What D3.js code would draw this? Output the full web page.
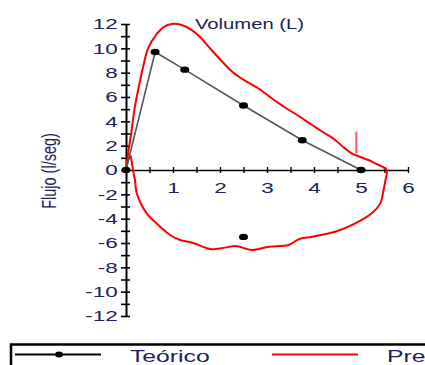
<!DOCTYPE html>
<html><head><meta charset="utf-8">
<script src="https://cdn.jsdelivr.net/npm/d3@7"></script>
<style>body{margin:0;background:#fff}svg{display:block}text{font-family:"Liberation Sans",Arial,sans-serif;fill:#1a2358}</style>
</head><body>
<script>
// Teórico (theoretical) curve: volume (L), flow (l/seg)
const teoVol  = [0, 0.62, 1.25, 2.5, 3.75, 5.0];
const teoFlow = [0, 9.7, 8.25, 5.3, 2.45, 0];
// isolated theoretical inspiratory point
const teoInspVol = [2.5];
const teoInspFlow = [-5.5];
// Pre (measured) loop: expiratory then inspiratory branch
const preVol  = [0,0.05,0.11,0.18,0.26,0.36,0.47,0.66,0.8,0.97,1.2,1.4,1.57,1.82,2.05,2.26,2.55,2.82,3.1,3.36,3.65,3.96,4.2,4.45,4.65,4.8,5.0,5.16,5.3,5.45,5.55,
                 5.52,5.48,5.41,5.23,4.88,4.45,3.96,3.67,3.46,3.04,2.68,2.33,2.11,1.83,1.72,1.43,1.15,0.94,0.65,0.44,0.23,0.19,0.15,0.1];
const preFlow = [0,1.5,3,5,6.6,8.4,10,11.2,11.75,12.0,11.9,11.5,10.95,9.86,8.9,8.08,7.3,6.7,5.9,5.2,4.5,3.7,3.1,2.47,1.8,1.37,1.05,0.82,0.55,0.27,0,
                 -0.82,-1.64,-2.74,-3.56,-4.38,-5.07,-5.48,-5.7,-6.16,-6.3,-6.57,-6.25,-6.38,-6.52,-6.43,-6.0,-5.75,-5.34,-4.38,-3.56,-1.92,-0.82,0,1.2];
// red marker segment
const markVol = [4.9, 4.9];
const markFlow = [3.15, 1.37];
const yTickLabels = [-12,-10,-8,-6,-4,-2,0,2,4,6,8,10,12];
const yMinorTicks = d3.range(-12, 13, 1);
const xTickLabels = [1,2,3,4,5,6];
const xTicks = d3.range(0.5, 6.01, 0.5);
const title = "Volumen (L)";
const yTitle = "Flujo (l/seg)";
const legendNames = ["Teórico", "Pre"];

const W = 425, H = 365;
const svg = d3.select("body").append("svg").attr("width", W).attr("height", H);
const x = d3.scaleLinear().domain([0, 6]).range([126, 408]);
const y = d3.scaleLinear().domain([-12, 12]).range([316, 24]);

// Y axis (left ticks with labels)
const yAxL = d3.axisLeft(y).tickValues(yMinorTicks).tickSizeInner(5).tickSizeOuter(0)
  .tickFormat(d => yTickLabels.includes(d) ? d : "");
const gy = svg.append("g").attr("transform", `translate(${x(0)},0)`).call(yAxL);
gy.select(".domain").attr("stroke", "#000").attr("stroke-width", 2);
gy.selectAll(".tick line").attr("stroke", "#000").attr("stroke-width", 1.6);
gy.selectAll(".tick text").attr("x", -5.5).attr("transform", "scale(1.5,1)")
  .style("font-size", "15px").attr("fill", "#1a2358");
const gy2 = svg.append("g").attr("transform", `translate(${x(0)},0)`)
  .call(d3.axisRight(y).tickValues(yMinorTicks).tickSize(4).tickFormat(""));
gy2.select(".domain").remove();
gy2.selectAll(".tick line").attr("stroke", "#000").attr("stroke-width", 1.6);

// X axis
const gx = svg.append("g").attr("transform", `translate(0,${y(0)})`)
  .call(d3.axisBottom(x).tickValues(xTicks).tickSizeInner(3).tickSizeOuter(0)
    .tickFormat(d => xTickLabels.includes(d) ? d : ""));
gx.select(".domain").attr("stroke", "#000").attr("stroke-width", 1.5);
gx.selectAll(".tick line").attr("stroke", "#000").attr("stroke-width", 1.4);
gx.selectAll(".tick text").attr("y", 23).attr("dy", 0).attr("transform", "scale(1.5,1)")
  .style("font-size", "15px").attr("fill", "#1a2358");
const gx2 = svg.append("g").attr("transform", `translate(0,${y(0)})`)
  .call(d3.axisTop(x).tickValues(xTicks).tickSize(3).tickFormat(""));
gx2.select(".domain").remove();
gx2.selectAll(".tick line").attr("stroke", "#000").attr("stroke-width", 1.4);

// Title and y-title
svg.append("text").attr("transform", "translate(195,29) scale(1.35,1)")
  .style("font-size", "15px").text(title);
svg.append("text").attr("transform", "translate(56,171) scale(1.35,1) rotate(-90)")
  .attr("text-anchor", "middle").style("font-size", "14.5px").text(yTitle);

const line = d3.line().x(d => x(d[0])).y(d => y(d[1]));
// Pre loop
svg.append("path").datum(preVol.map((v, i) => [v, preFlow[i]]))
  .attr("d", line.curve(d3.curveCatmullRom.alpha(0.5)))
  .attr("fill", "none").attr("stroke", "#ff0000").attr("stroke-width", 2);
svg.append("path").datum(markVol.map((v, i) => [v, markFlow[i]]))
  .attr("d", d3.line().x(d => x(d[0])).y(d => y(d[1])))
  .attr("stroke", "#ff5a5a").attr("stroke-width", 2);

// Teórico
const teo = teoVol.map((v, i) => [v, teoFlow[i]]);
svg.append("path").datum(teo).attr("d", d3.line().x(d => x(d[0])).y(d => y(d[1])))
  .attr("fill", "none").attr("stroke", "#555").attr("stroke-width", 1.6);
svg.selectAll("ellipse.teo").data(teo.concat(teoInspVol.map((v, i) => [v, teoInspFlow[i]])))
  .enter().append("ellipse").attr("class", "teo")
  .attr("cx", d => x(d[0])).attr("cy", d => y(d[1])).attr("rx", 4.5).attr("ry", 3.2).attr("fill", "#000");

// Legend
svg.append("rect").attr("x", 11).attr("y", 344.5).attr("width", 430).attr("height", 40)
  .attr("fill", "none").attr("stroke", "#000").attr("stroke-width", 2.5);
svg.append("line").attr("x1", 15).attr("x2", 101).attr("y1", 354.5).attr("y2", 354.5)
  .attr("stroke", "#000").attr("stroke-width", 2);
svg.append("ellipse").attr("cx", 59).attr("cy", 354.5).attr("rx", 4).attr("ry", 3).attr("fill", "#000");
svg.append("text").attr("transform", "translate(130,362) scale(1.5,1)")
  .style("font-size", "16.5px").text(legendNames[0]);
svg.append("line").attr("x1", 272).attr("x2", 358).attr("y1", 354.5).attr("y2", 354.5)
  .attr("stroke", "#ff0000").attr("stroke-width", 2);
svg.append("text").attr("transform", "translate(387,362) scale(1.5,1)")
  .style("font-size", "16.5px").text(legendNames[1]);
</script>
</body></html>
